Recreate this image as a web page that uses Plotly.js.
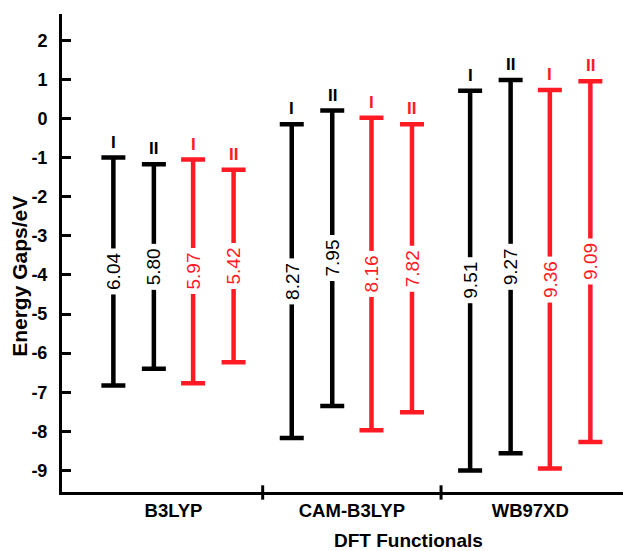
<!DOCTYPE html>
<html><head><meta charset="utf-8">
<script src="https://cdn.plot.ly/plotly-3.0.1.min.js"></script>
<style>body{margin:0;background:#fff}#chart{width:623px;height:551px}</style>
</head><body><div id="chart"></div>
<script>
// ---- data ----
const functionals = ['B3LYP', 'CAM-B3LYP', 'WB97XD'];
const seriesNames = ['I', 'II', 'I', 'II'];
const topI_black  = [-1.00, -0.15, 0.71];
const botI_black  = [-6.83, -8.17, -9.00];
const topII_black = [-1.17, 0.20, 0.98];
const botII_black = [-6.40, -7.35, -8.56];
const topI_red    = [-1.05, 0.02, 0.73];
const botI_red    = [-6.77, -7.97, -8.95];
const topII_red   = [-1.31, -0.15, 0.95];
const botII_red   = [-6.23, -7.51, -8.27];
const gapI_black  = ['6.04', '8.27', '9.51'];
const gapII_black = ['5.80', '7.95', '9.27'];
const gapI_red    = ['5.97', '8.16', '9.36'];
const gapII_red   = ['5.42', '7.82', '9.09'];
const yTickVals = [2, 1, 0, -1, -2, -3, -4, -5, -6, -7, -8, -9];
const yTickText = ['2', '1', '0', '-1', '-2', '-3', '-4', '-5', '-6', '-7', '-8', '-9'];

// ---- styling ----
const FONT = 'Arial, "Liberation Sans", sans-serif';
const BLACK = '#000000', RED = '#ff1a24';
const colors = [BLACK, BLACK, RED, RED];
const offsets = [-0.337, -0.11, 0.11, 0.337];
const tops = [topI_black, topII_black, topI_red, topII_red];
const bots = [botI_black, botII_black, botI_red, botII_red];
const gaps = [gapI_black, gapII_black, gapI_red, gapII_red];

const traces = [];
const annotations = [];
tops.forEach((top, s) => {
  const bot = bots[s];
  const xs = functionals.map((_, i) => i + offsets[s]);
  const mids = top.map((t, i) => (t + bot[i]) / 2);
  const half = top.map((t, i) => (t - bot[i]) / 2);
  traces.push({
    type: 'scatter', mode: 'markers', x: xs, y: mids,
    marker: {size: 1, opacity: 0},
    error_y: {type: 'data', symmetric: true, array: half, color: colors[s], thickness: 4.5, width: 12},
    hoverinfo: 'skip', showlegend: false
  });
  xs.forEach((x, i) => {
    annotations.push({
      x: x, y: top[i], xref: 'x', yref: 'y', text: seriesNames[s], showarrow: false,
      yanchor: 'bottom', yshift: 4, font: {family: FONT, size: 17, color: colors[s], weight: 'bold'}
    });
    annotations.push({
      x: x, y: mids[i], xref: 'x', yref: 'y', text: gaps[s][i], showarrow: false,
      textangle: -90, bgcolor: '#ffffff', borderpad: 4,
      font: {family: FONT, size: 19, color: colors[s]}
    });
  });
});

// axis titles placed as annotations to match the reference positions
annotations.push({
  xref: 'paper', yref: 'paper', x: 0.617, y: -0.101, yanchor: 'middle', xanchor: 'center',
  text: 'DFT Functionals', showarrow: false,
  font: {family: FONT, size: 19, color: BLACK, weight: 'bold'}
});
annotations.push({
  xref: 'paper', yref: 'paper', x: -0.075, y: 0.452, yanchor: 'middle', xanchor: 'center',
  text: 'Energy Gaps/eV', showarrow: false, textangle: -90,
  font: {family: FONT, size: 21, color: BLACK, weight: 'bold'}
});

const shapes = [0.5, 1.5].map(x => ({
  type: 'line', xref: 'x', yref: 'paper', x0: x, x1: x, y0: -0.016, y1: 0.014,
  line: {color: BLACK, width: 3}
}));

const layout = {
  width: 623, height: 551,
  margin: {l: 62, r: 0, t: 14, b: 59},
  paper_bgcolor: '#fff', plot_bgcolor: '#fff',
  font: {family: FONT, color: BLACK},
  xaxis: {
    range: [-0.625, 2.52], tickvals: [0, 1, 2], ticktext: functionals,
    showgrid: false, zeroline: false, showline: true, linewidth: 3, linecolor: BLACK,
    ticks: '', tickfont: {family: FONT, size: 18.5, weight: 'bold'}
  },
  yaxis: {
    range: [-9.55, 2.67], tickvals: yTickVals, ticktext: yTickText,
    showgrid: false, zeroline: false, showline: true, linewidth: 3, linecolor: BLACK,
    ticks: 'inside', ticklen: 9, tickwidth: 3, tickcolor: BLACK,
    ticklabelstandoff: 8,
    tickfont: {family: FONT, size: 18, weight: 'bold'}
  },
  shapes: shapes,
  annotations: annotations
};

Plotly.newPlot('chart', traces, layout, {displayModeBar: false, staticPlot: true});
</script>
</body></html>
